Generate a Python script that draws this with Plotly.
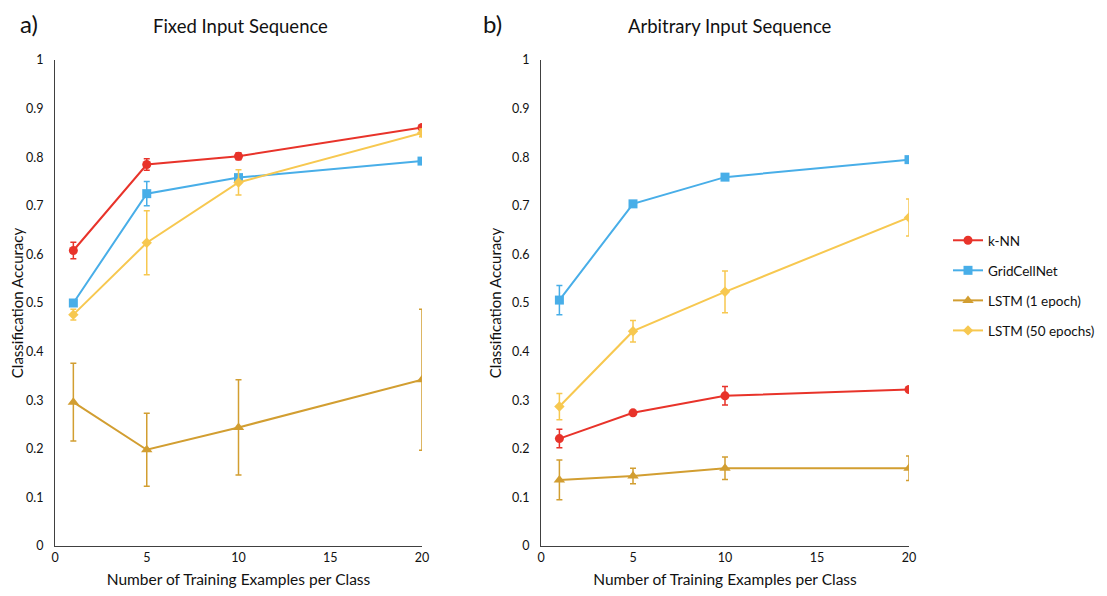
import plotly.graph_objects as go

x_vals = [1, 5, 10, 20]
series_names = ["k-NN", "GridCellNet", "LSTM (1 epoch)", "LSTM (50 epochs)"]

# Panel a: Fixed Input Sequence
fixed_knn = [0.608, 0.785, 0.802, 0.861]
fixed_knn_err = [0.017, 0.012, 0.007, 0.005]
fixed_grid = [0.500, 0.725, 0.758, 0.792]
fixed_grid_err = [0.004, 0.025, 0.006, 0.004]
fixed_lstm1 = [0.296, 0.198, 0.244, 0.342]
fixed_lstm1_err = [0.080, 0.075, 0.098, 0.145]
fixed_lstm50 = [0.476, 0.624, 0.748, 0.850]
fixed_lstm50_err = [0.011, 0.066, 0.026, 0.008]

# Panel b: Arbitrary Input Sequence
arb_knn = [0.221, 0.274, 0.309, 0.322]
arb_knn_err = [0.019, 0.004, 0.019, 0.003]
arb_grid = [0.506, 0.704, 0.759, 0.795]
arb_grid_err = [0.030, 0.004, 0.004, 0.005]
arb_lstm1 = [0.136, 0.144, 0.160, 0.160]
arb_lstm1_err = [0.041, 0.016, 0.023, 0.025]
arb_lstm50 = [0.287, 0.442, 0.523, 0.676]
arb_lstm50_err = [0.027, 0.022, 0.043, 0.038]

x_ticks = [0, 5, 10, 15, 20]
y_ticks = [0, 0.1, 0.2, 0.3, 0.4, 0.5, 0.6, 0.7, 0.8, 0.9, 1]

colors = ["#E8332A", "#48AEE8", "#D29E31", "#F7C850"]
symbols = ["circle", "square", "triangle-up", "diamond"]
sizes = [9, 9, 10, 8]

FONT = "Lato, 'Open Sans', sans-serif"

# page has an 8px body margin: size the figure so it fits the window
OFF = 8
W, H = 1107 - 2 * OFF, 596 - 2 * OFF


def fx(sx):
    return (sx - OFF) / W


def fy(sy):
    return 1 - (sy - OFF) / H


fig = go.Figure()

panels = [
    ("x", "y", [fixed_knn, fixed_grid, fixed_lstm1, fixed_lstm50],
     [fixed_knn_err, fixed_grid_err, fixed_lstm1_err, fixed_lstm50_err], True),
    ("x2", "y2", [arb_knn, arb_grid, arb_lstm1, arb_lstm50],
     [arb_knn_err, arb_grid_err, arb_lstm1_err, arb_lstm50_err], False),
]

for xa, ya, ys, errs, show in panels:
    for i, name in enumerate(series_names):
        fig.add_trace(go.Scatter(
            x=x_vals, y=ys[i], name=name, mode="lines+markers",
            xaxis=xa, yaxis=ya,
            line=dict(color=colors[i], width=2),
            marker=dict(symbol=symbols[i], size=sizes[i], color=colors[i]),
            error_y=dict(type="data", array=errs[i], visible=True,
                         color=colors[i], thickness=1.5, width=3),
            showlegend=show, legendgroup=name,
        ))

axis_common = dict(
    range=[0, 20], tickvals=x_ticks, showgrid=False, zeroline=False,
    showline=True, linecolor="#404040", linewidth=1.2, ticks="",
    automargin=False,
    tickfont=dict(family=FONT, size=12.5, color="#111111"),
    title=dict(text="Number of Training Examples per Class",
               font=dict(family=FONT, size=15.5, color="#111111"), standoff=12),
)
yaxis_common = dict(
    range=[0, 1], tickvals=y_ticks, showgrid=False, zeroline=False,
    showline=True, linecolor="#404040", linewidth=1.2, ticks="",
    automargin=False,
    tickfont=dict(family=FONT, size=12.5, color="#111111"),
    ticklabelstandoff=8,
    title=dict(text="Classification Accuracy",
               font=dict(family=FONT, size=15, color="#111111"), standoff=6),
)

y_dom = [fy(546), fy(60)]

fig.update_layout(
    width=W, height=H,
    margin=dict(l=0, r=0, t=0, b=0, autoexpand=False),
    paper_bgcolor="white", plot_bgcolor="white",
    font=dict(family=FONT, color="#111111"),
    xaxis=dict(axis_common, domain=[fx(55), fx(422)], anchor="y"),
    yaxis=dict(yaxis_common, domain=y_dom, anchor="x"),
    xaxis2=dict(axis_common, domain=[fx(541), fx(909)], anchor="y2"),
    yaxis2=dict(yaxis_common, domain=y_dom, anchor="x2"),
    legend=dict(x=fx(948), y=fy(225), xanchor="left", yanchor="top",
                font=dict(family=FONT, size=13.5, color="#111111"),
                traceorder="grouped", tracegroupgap=9.5,
                bgcolor="rgba(0,0,0,0)"),
    annotations=[
        dict(text="a)", x=fx(19), y=1, xref="paper", yref="paper",
             xanchor="left", yanchor="top", showarrow=False, borderpad=0,
             font=dict(family=FONT, size=24, color="#111111")),
        dict(text="b)", x=fx(482), y=1, xref="paper", yref="paper",
             xanchor="left", yanchor="top", showarrow=False, borderpad=0,
             font=dict(family=FONT, size=24, color="#111111")),
        dict(text="Fixed Input Sequence", x=fx(240), y=fy(26),
             xref="paper", yref="paper", xanchor="center", yanchor="middle",
             showarrow=False, font=dict(family=FONT, size=18.5, color="#111111")),
        dict(text="Arbitrary Input Sequence", x=fx(730), y=fy(26),
             xref="paper", yref="paper", xanchor="center", yanchor="middle",
             showarrow=False, font=dict(family=FONT, size=18.5, color="#111111")),
    ],
)

fig.write_html("out.html")
